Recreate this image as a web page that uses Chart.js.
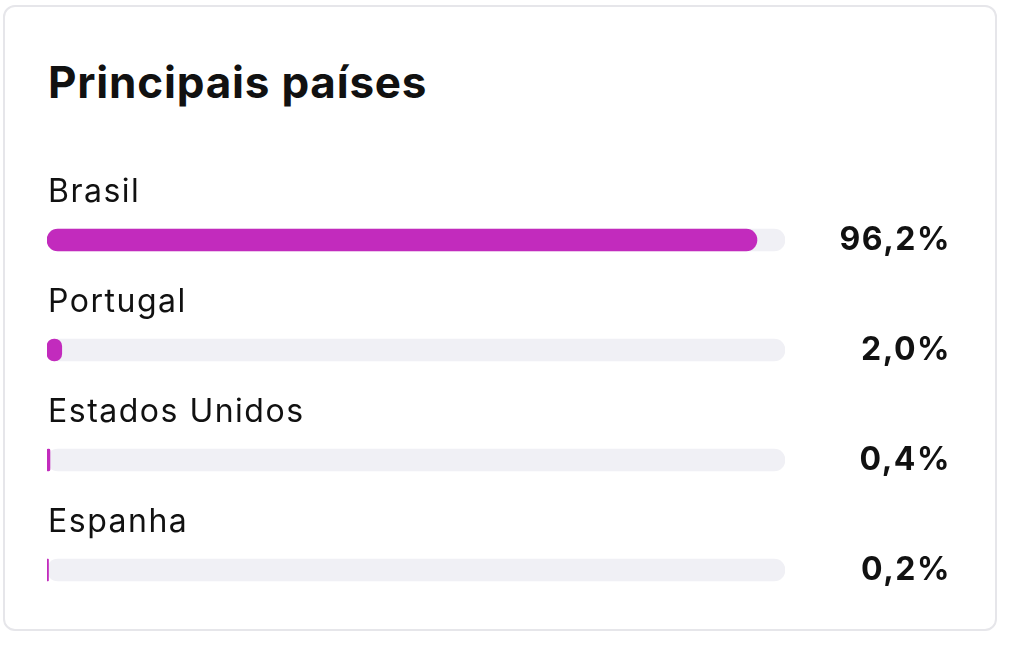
<!DOCTYPE html>
<html><head><meta charset="utf-8">
<script src="https://cdn.jsdelivr.net/npm/chart.js@4"></script>
<style>
html,body{margin:0;padding:0;background:#fff;width:1010px;height:649px;overflow:hidden;font-family:Inter,"Noto Sans",sans-serif}
#card{position:absolute;left:3px;top:5px;width:994px;height:626px;border:2px solid #e6e6ea;border-radius:12px;box-sizing:border-box}
#title{position:absolute;left:48px;top:55px;font-size:44px;font-weight:700;color:#111;letter-spacing:0.8px}
#wrap{position:absolute;left:0;top:0;width:1010px;height:649px}
</style></head><body>
<div id="card"></div>
<div id="title">Principais países</div>
<div id="wrap"><canvas id="c"></canvas></div>
<script>
const categories = ["Brasil","Portugal","Estados Unidos","Espanha"];
const shares = [96.2, 2.0, 0.4, 0.2];
const valueLabels = ["96,2%","2,0%","0,4%","0,2%"];
const track = [100,100,100,100];

const textPlugin = {
  id:'texts',
  afterDatasetsDraw(chart){
    const ctx = chart.ctx, meta = chart.getDatasetMeta(1);
    ctx.save();
    meta.data.forEach((bar,i)=>{
      ctx.fillStyle='#111';
      ctx.textBaseline='middle';
      ctx.font='400 32px Inter, "Noto Sans", sans-serif';
      ctx.letterSpacing='1.5px';
      ctx.textAlign='left';
      ctx.fillText(categories[i], 48, bar.y-48);
      ctx.font='700 32px Inter, "Noto Sans", sans-serif';
      ctx.letterSpacing='1.5px';
      ctx.textAlign='right';
      ctx.fillText(valueLabels[i], 951, bar.y);
    });
    ctx.restore();
  }
};

new Chart(document.getElementById('c'),{
  type:'bar',
  data:{labels:categories,datasets:[
    {data:shares,backgroundColor:'#c22bbd',borderRadius:11,borderSkipped:false,barThickness:22,grouped:false,order:0},
    {data:track,backgroundColor:'#f0f0f5',borderRadius:11,borderSkipped:false,barThickness:22,grouped:false,order:1}
  ]},
  options:{
    indexAxis:'y',responsive:true,maintainAspectRatio:false,animation:false,
    layout:{padding:{left:47,right:225,top:185,bottom:24}},
    plugins:{legend:{display:false},tooltip:{enabled:false}},
    scales:{x:{display:false,min:0,max:100},y:{display:false}}
  },
  plugins:[textPlugin]
});
</script>
</body></html>
